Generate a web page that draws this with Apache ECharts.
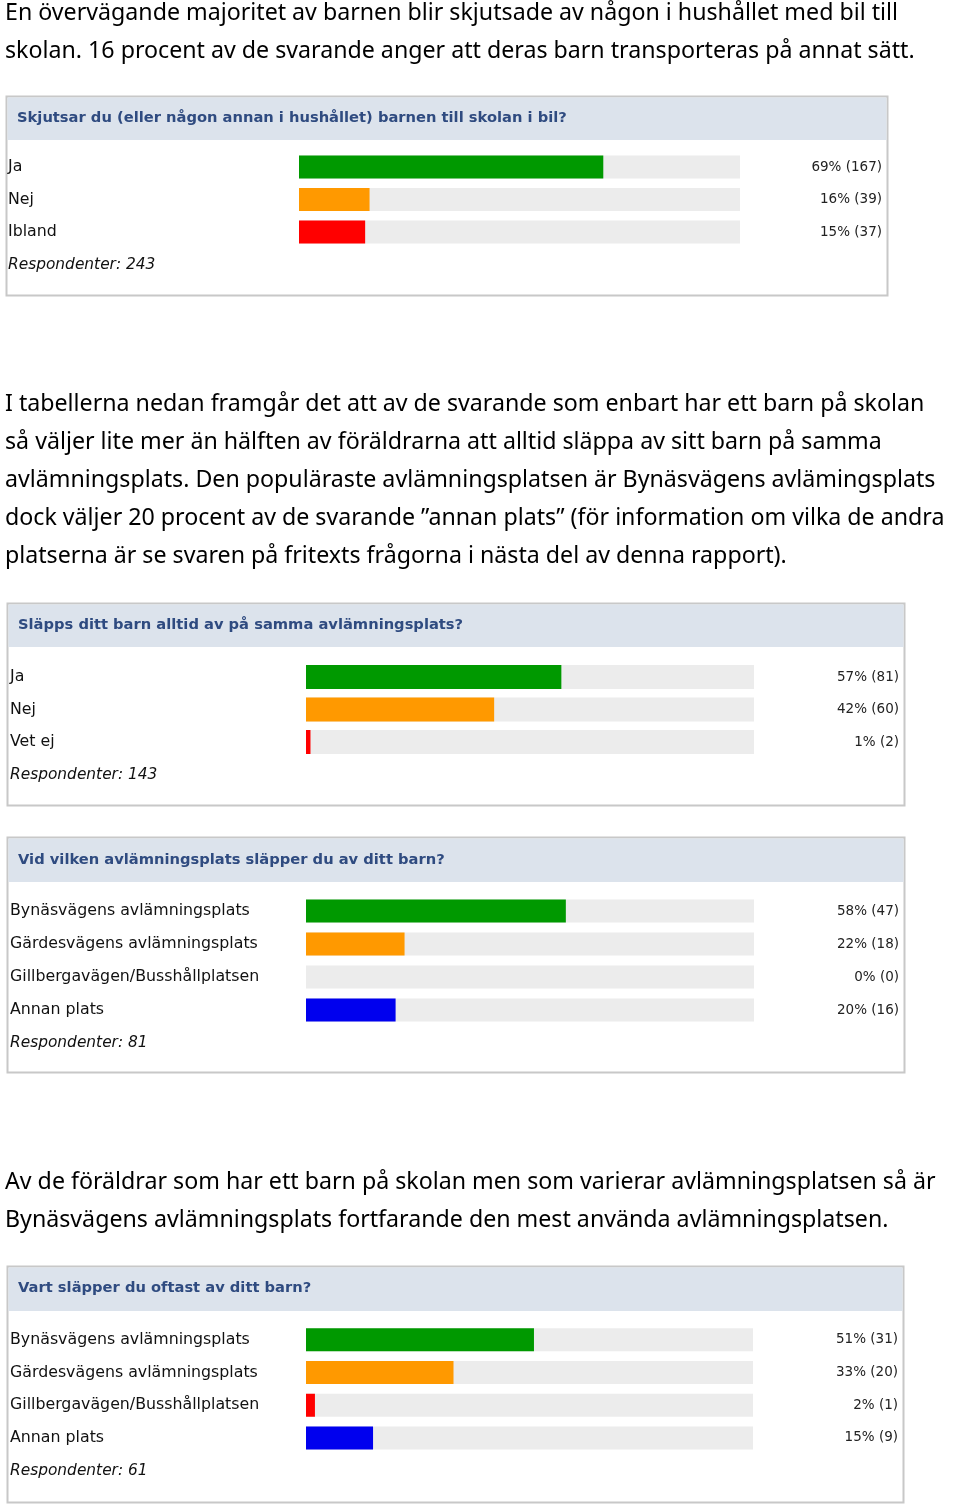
<!DOCTYPE html>
<html><head><meta charset="utf-8">
<script src="https://cdn.jsdelivr.net/npm/echarts@6/dist/echarts.min.js"></script>
<style>html,body{margin:0;padding:0;background:#fff}#c{width:960px;height:1505px}</style>
</head><body><div id="c"></div>
<script>
// ---------- data ----------
const para1 = [
  'En övervägande majoritet av barnen blir skjutsade av någon i hushållet med bil till',
  'skolan. 16 procent av de svarande anger att deras barn transporteras på annat sätt.'
];
const para2 = [
  'I tabellerna nedan framgår det att av de svarande som enbart har ett barn på skolan',
  'så väljer lite mer än hälften av föräldrarna att alltid släppa av sitt barn på samma',
  'avlämningsplats. Den populäraste avlämningsplatsen är Bynäsvägens avlämingsplats',
  'dock väljer 20 procent av de svarande ”annan plats” (för information om vilka de andra',
  'platserna är se svaren på fritexts frågorna i nästa del av denna rapport).'
];
const para3 = [
  'Av de föräldrar som har ett barn på skolan men som varierar avlämningsplatsen så är',
  'Bynäsvägens avlämningsplats fortfarande den mest använda avlämningsplatsen.'
];

const q1Title = 'Skjutsar du (eller någon annan i hushållet) barnen till skolan i bil?';
const q1Categories = ['Ja', 'Nej', 'Ibland'];
const q1Percent = [69, 16, 15];
const q1Count = [167, 39, 37];
const q1Respondents = 243;

const q2Title = 'Släpps ditt barn alltid av på samma avlämningsplats?';
const q2Categories = ['Ja', 'Nej', 'Vet ej'];
const q2Percent = [57, 42, 1];
const q2Count = [81, 60, 2];
const q2Respondents = 143;

const q3Title = 'Vid vilken avlämningsplats släpper du av ditt barn?';
const q3Categories = ['Bynäsvägens avlämningsplats', 'Gärdesvägens avlämningsplats', 'Gillbergavägen/Busshållplatsen', 'Annan plats'];
const q3Percent = [58, 22, 0, 20];
const q3Count = [47, 18, 0, 16];
const q3Respondents = 81;

const q4Title = 'Vart släpper du oftast av ditt barn?';
const q4Categories = ['Bynäsvägens avlämningsplats', 'Gärdesvägens avlämningsplats', 'Gillbergavägen/Busshållplatsen', 'Annan plats'];
const q4Percent = [51, 33, 2, 15];
const q4Count = [31, 20, 1, 9];
const q4Respondents = 61;

const barColors = ['#009900', '#ff9900', '#ff0000', '#0000ee'];

// ---------- layout ----------
const questions = [
  {title: q1Title, cats: q1Categories, pct: q1Percent, cnt: q1Count, resp: q1Respondents},
  {title: q2Title, cats: q2Categories, pct: q2Percent, cnt: q2Count, resp: q2Respondents},
  {title: q3Title, cats: q3Categories, pct: q3Percent, cnt: q3Count, resp: q3Respondents},
  {title: q4Title, cats: q4Categories, pct: q4Percent, cnt: q4Count, resp: q4Respondents}
];
const layout = [
  {x0: 6, x1: 887, y0: 96, y1: 295, hb: 140, titleX: 17, titleY: 118, labelX: 8, gl: 299, gr: 740, rowTop: 150.75, rowH: 32.5, barW: 23, valR: 882, respY: 265},
  {x0: 7, x1: 904, y0: 603, y1: 805, hb: 647, titleX: 18, titleY: 625, labelX: 10, gl: 306, gr: 754, rowTop: 660.75, rowH: 32.5, barW: 24, valR: 899, respY: 775},
  {x0: 7, x1: 904, y0: 837, y1: 1072, hb: 882, titleX: 18, titleY: 860, labelX: 10, gl: 306, gr: 754, rowTop: 894.5, rowH: 33, barW: 23, valR: 899, respY: 1043},
  {x0: 7, x1: 903, y0: 1266, y1: 1502, hb: 1311, titleX: 18, titleY: 1288, labelX: 10, gl: 306, gr: 753, rowTop: 1323.5, rowH: 32.7, barW: 23, valR: 898, respY: 1471}
];

const paraFont = '23.2px "Noto Sans", sans-serif';
const titleFont = 'bold 14.7px "DejaVu Sans", sans-serif';
const respFont = 'italic 15.4px "DejaVu Sans", sans-serif';

const graphic = [];
function addPara(lines, y0) {
  lines.forEach((t, i) => {
    graphic.push({type: 'text', z: 10, style: {text: t, x: 5, y: y0 + i * 38, font: paraFont, fill: '#000', verticalAlign: 'middle'}});
  });
}
addPara(para1, 13);
addPara(para2, 404);
addPara(para3, 1182);

const grid = [], xAxis = [], yAxis = [], series = [];
questions.forEach((q, k) => {
  const L = layout[k];
  graphic.push({type: 'rect', z: -10, shape: {x: L.x0 + 0.5, y: L.y0 + 0.5, width: L.x1 - L.x0, height: L.y1 - L.y0},
    style: {fill: '#ffffff', stroke: '#c8c8c8', lineWidth: 2}});
  graphic.push({type: 'rect', z: -9, shape: {x: L.x0 + 1.5, y: L.y0 + 1.5, width: L.x1 - L.x0 - 2, height: L.hb - L.y0 - 1.5},
    style: {fill: '#dce3ec'}});
  graphic.push({type: 'text', z: 3, style: {text: q.title, x: L.titleX, y: L.titleY, font: titleFont, fill: '#2f4b80', verticalAlign: 'middle'}});
  graphic.push({type: 'text', z: 3, style: {text: 'Respondenter: ' + q.resp, x: L.labelX, y: L.respY, font: respFont, fill: '#111', verticalAlign: 'middle'}});

  const n = q.cats.length;
  grid.push({left: L.gl, width: L.gr - L.gl, top: L.rowTop, height: L.rowH * n, containLabel: false});
  xAxis.push({type: 'value', gridIndex: k, min: 0, max: 100, show: false});
  yAxis.push({type: 'category', gridIndex: k, data: q.cats, inverse: true, position: 'left', z: 20,
    axisLine: {show: false}, axisTick: {show: false}, splitLine: {show: false},
    axisLabel: {interval: 0, align: 'left', margin: L.gl - L.labelX, fontFamily: '"DejaVu Sans", sans-serif', fontSize: 15.8, color: '#111'}});
  yAxis.push({type: 'category', gridIndex: k, data: q.cats, inverse: true, position: 'right', z: 20,
    axisLine: {show: false}, axisTick: {show: false}, splitLine: {show: false},
    axisLabel: {interval: 0, align: 'right', margin: L.valR - L.gr, fontFamily: '"DejaVu Sans", sans-serif', fontSize: 13.5, color: '#222',
      formatter: (v, i) => q.pct[i] + '% (' + q.cnt[i] + ')'}});
  series.push({type: 'bar', xAxisIndex: k, yAxisIndex: 2 * k, barWidth: L.barW, z: 6,
    showBackground: true, backgroundStyle: {color: '#ececec'},
    data: q.pct.map((v, i) => ({value: v, itemStyle: {color: barColors[i]}})),
    silent: true, animation: false});
});

const chart = echarts.init(document.getElementById('c'), null, {renderer: 'canvas'});
chart.setOption({
  animation: false,
  backgroundColor: '#ffffff',
  graphic: graphic,
  grid: grid, xAxis: xAxis, yAxis: yAxis, series: series
});
</script></body></html>
